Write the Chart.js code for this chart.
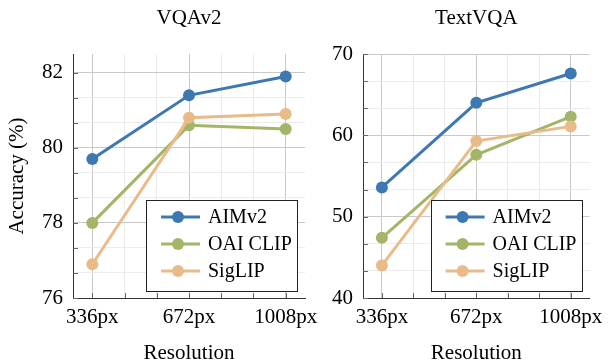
<!DOCTYPE html>
<html>
<head>
<meta charset="utf-8">
<script src="https://cdn.jsdelivr.net/npm/chart.js@4.4.1/dist/chart.umd.min.js"></script>
<style>
  html, body { margin: 0; padding: 0; background: #fff; }
  #wrap { position: relative; width: 611px; height: 360px; }
  canvas { position: absolute; left: 0; top: 0; }
</style>
</head>
<body>
<div id="wrap">
  <canvas id="vqaChart" width="611" height="360"></canvas>
  <canvas id="textChart" width="611" height="360"></canvas>
</div>
<script>
// x axis: input resolution
var resolutions = [336, 672, 1008];
var xTickLabels = ["336px", "672px", "1008px"];

var seriesNames = ["AIMv2", "OAI CLIP", "SigLIP"];
var seriesColors = ["#3e78b3", "#a3b567", "#e9bb89"];

// VQAv2 accuracy (%)
var vqaAimv2 = [79.7, 81.4, 81.9];
var vqaOaiClip = [78.0, 80.6, 80.5];
var vqaSiglip = [76.9, 80.8, 80.9];
var vqaYTicks = [76, 78, 80, 82];

// TextVQA accuracy (%)
var textAimv2 = [53.6, 64.0, 67.6];
var textOaiClip = [47.4, 57.6, 62.3];
var textSiglip = [44.0, 59.3, 61.1];
var textYTicks = [40, 50, 60, 70];

var serif = '"Liberation Serif", "Times New Roman", serif';

function findClose(list, v) {
  for (var i = 0; i < list.length; i++) {
    if (Math.abs(list[i] - v) < 1e-6) return i;
  }
  return -1;
}

// majors plus two minor ticks between each pair (like pgfplots minor tick num=2)
function withMinors(major) {
  var out = [];
  for (var i = 0; i < major.length; i++) {
    out.push(major[i]);
    if (i < major.length - 1) {
      var step = (major[i + 1] - major[i]) / 3;
      out.push(major[i] + step, major[i] + 2 * step);
    }
  }
  return out;
}

// short tick marks drawn inside the axes
var innerTicks = {
  id: "innerTicks",
  beforeDatasetsDraw: function(chart) {
    var ctx = chart.ctx, area = chart.chartArea;
    ctx.save();
    ctx.strokeStyle = "#666";
    ctx.lineWidth = 1;
    ctx.beginPath();
    chart.scales.x.ticks.forEach(function(t) {
      var px = Math.round(chart.scales.x.getPixelForValue(t.value)) + 0.5;
      ctx.moveTo(px, area.bottom);
      ctx.lineTo(px, area.bottom - 5);
    });
    chart.scales.y.ticks.forEach(function(t) {
      var py = Math.round(chart.scales.y.getPixelForValue(t.value)) + 0.5;
      ctx.moveTo(area.left, py);
      ctx.lineTo(area.left + 5, py);
    });
    ctx.stroke();
    ctx.restore();
  }
};

// boxed legend in the lower right corner of the plot
var boxLegend = {
  id: "boxLegend",
  afterDraw: function(chart) {
    var ctx = chart.ctx, area = chart.chartArea;
    var w = 151, h = 91;
    var left = area.right - 8 - w, top = area.bottom - 7 - h;
    ctx.save();
    ctx.fillStyle = "#fff";
    ctx.fillRect(left, top, w, h);
    ctx.strokeStyle = "#222";
    ctx.lineWidth = 1;
    ctx.strokeRect(Math.round(left) + 0.5, Math.round(top) + 0.5, w, h);
    ctx.font = "20px " + serif;
    ctx.textBaseline = "middle";
    chart.data.datasets.forEach(function(ds, i) {
      var y = top + 17 + i * 27;
      ctx.strokeStyle = ds.borderColor;
      ctx.lineWidth = 3;
      ctx.beginPath();
      ctx.moveTo(left + 15, y);
      ctx.lineTo(left + 54, y);
      ctx.stroke();
      ctx.fillStyle = ds.borderColor;
      ctx.beginPath();
      ctx.arc(left + 32, y, 6, 0, Math.PI * 2);
      ctx.fill();
      ctx.fillStyle = "#000";
      ctx.fillText(ds.label, left + 62, y + 1);
    });
    ctx.restore();
  }
};

function makeChart(id, title, series, yTicks, yMax, yTitle, pad, yWidth) {
  var datasets = series.map(function(vals, i) {
    return {
      label: seriesNames[i],
      data: resolutions.map(function(r, j) { return { x: r, y: vals[j] }; }),
      borderColor: seriesColors[i],
      backgroundColor: seriesColors[i],
      pointBackgroundColor: seriesColors[i],
      pointBorderColor: seriesColors[i],
      pointBorderWidth: 0,
      pointRadius: 6,
      borderWidth: 3,
      order: series.length - i,
      clip: false
    };
  });
  var xAll = withMinors(resolutions);
  var yAll = withMinors(yTicks);
  return new Chart(document.getElementById(id), {
    type: "line",
    data: { datasets: datasets },
    plugins: [innerTicks, boxLegend],
    options: {
      responsive: false,
      animation: false,
      devicePixelRatio: 1,
      layout: { padding: pad },
      plugins: {
        legend: { display: false },
        tooltip: { enabled: false },
        title: {
          display: true,
          text: title,
          fullSize: false,
          color: "#000",
          font: { family: serif, size: 21, weight: "normal", lineHeight: 1.2 },
          padding: { top: 6, bottom: 22.8 }
        }
      },
      scales: {
        x: {
          type: "linear",
          min: 268.8,
          max: 1075.2,
          afterBuildTicks: function(s) { s.ticks = xAll.map(function(v) { return { value: v }; }); },
          afterFit: function(s) { s.height = 62; },
          ticks: {
            autoSkip: false,
            maxRotation: 0,
            padding: 7,
            color: "#000",
            font: { family: serif, size: 21 },
            callback: function(v) {
              var i = findClose(resolutions, v);
              return i < 0 ? "" : xTickLabels[i];
            }
          },
          grid: {
            drawTicks: false,
            color: function(c) { return findClose(resolutions, c.tick.value) < 0 ? "#ececec" : "#c9c9c9"; }
          },
          border: { display: true, color: "#333", width: 1 },
          title: {
            display: true,
            text: "Resolution",
            color: "#000",
            font: { family: serif, size: 21, lineHeight: 1 },
            padding: { top: 0, bottom: -4 }
          }
        },
        y: {
          type: "linear",
          min: yTicks[0],
          max: yMax,
          afterBuildTicks: function(s) { s.ticks = yAll.map(function(v) { return { value: v }; }); },
          afterFit: function(s) { s.width = yWidth; },
          ticks: {
            autoSkip: false,
            padding: 10,
            color: "#000",
            font: { family: serif, size: 21 },
            callback: function(v) {
              var i = findClose(yTicks, v);
              return i < 0 ? "" : String(yTicks[i]);
            }
          },
          grid: {
            drawTicks: false,
            color: function(c) { return findClose(yTicks, c.tick.value) < 0 ? "#ececec" : "#c9c9c9"; }
          },
          border: { display: true, color: "#333", width: 1 },
          title: {
            display: !!yTitle,
            text: yTitle || "",
            color: "#000",
            font: { family: serif, size: 21, lineHeight: 1.2 },
            padding: { top: 5, bottom: 0 }
          }
        }
      }
    }
  });
}

makeChart("vqaChart", "VQAv2", [vqaAimv2, vqaOaiClip, vqaSiglip], vqaYTicks, 82.5,
  "Accuracy (%)", { left: 0, right: 306, top: 0, bottom: 0 }, 73);
makeChart("textChart", "TextVQA", [textAimv2, textOaiClip, textSiglip], textYTicks, 70,
  null, { left: 303, right: 16, top: 0, bottom: 0 }, 60);
</script>
</body>
</html>
